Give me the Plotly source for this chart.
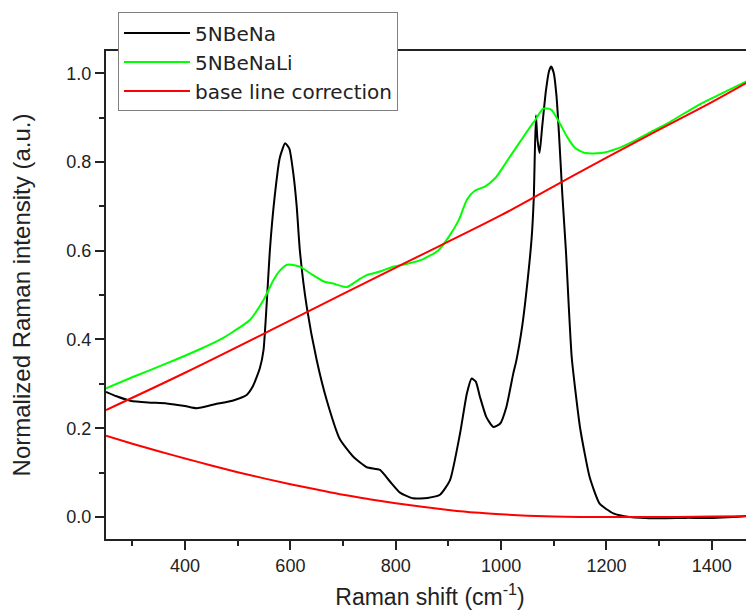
import plotly.graph_objects as go

# 5NBeNa (black)
na_x = [250, 270, 296, 330, 365, 400, 422, 460, 490, 517, 529, 542, 549, 555, 561, 570, 580, 590, 598, 606,
        612, 618, 631, 650, 669, 694, 720, 745, 770, 789, 808, 833, 860, 884, 903, 922, 935, 944, 952, 960,
        972, 985, 998, 1010, 1023, 1029, 1040, 1050, 1058, 1062, 1066, 1069, 1073, 1078, 1085, 1091, 1095,
        1100, 1105, 1110, 1116, 1123, 1134, 1150, 1168, 1187, 1213, 1244, 1300, 1350, 1400, 1440, 1480]
na_y = [0.282, 0.272, 0.262, 0.258, 0.256, 0.250, 0.245, 0.255, 0.262, 0.275, 0.295, 0.335, 0.376, 0.480,
        0.600, 0.720, 0.810, 0.842, 0.830, 0.770, 0.700, 0.600, 0.474, 0.353, 0.263, 0.175, 0.135, 0.112,
        0.106, 0.080, 0.055, 0.042, 0.043, 0.050, 0.083, 0.188, 0.278, 0.312, 0.305, 0.270, 0.225, 0.203,
        0.210, 0.248, 0.323, 0.353, 0.430, 0.530, 0.630, 0.720, 0.905, 0.850, 0.820, 0.880, 0.960, 1.005,
        1.015, 1.000, 0.950, 0.860, 0.730, 0.600, 0.360, 0.200, 0.090, 0.030, 0.008, 0.000, -0.003, -0.002,
        -0.002, 0.000, 0.004]

# 5NBeNaLi (green)
li_x = [250, 302, 365, 428, 470, 492, 523, 549, 568, 580, 593, 605, 618, 643, 665, 681, 707, 730, 745, 770,
        795, 820, 850, 880, 900, 920, 935, 950, 970, 990, 1010, 1030, 1050, 1065, 1080, 1095, 1110, 1125,
        1140, 1160, 1190, 1220, 1250, 1280, 1320, 1377, 1420, 1480]
li_y = [0.290, 0.316, 0.346, 0.378, 0.402, 0.418, 0.444, 0.489, 0.534, 0.555, 0.568, 0.568, 0.564, 0.545,
        0.530, 0.526, 0.518, 0.535, 0.545, 0.553, 0.564, 0.570, 0.580, 0.600, 0.630, 0.670, 0.715, 0.735,
        0.745, 0.765, 0.800, 0.835, 0.870, 0.895, 0.920, 0.918, 0.890, 0.857, 0.832, 0.820, 0.820, 0.830,
        0.846, 0.865, 0.890, 0.930, 0.955, 0.990]

# base line correction (red) - upper, for 5NBeNaLi
base_li_x = [250, 400, 600, 800, 1000, 1100, 1200, 1300, 1400, 1480]
base_li_y = [0.241, 0.325, 0.443, 0.562, 0.680, 0.745, 0.810, 0.873, 0.935, 0.988]

# base line correction (red) - lower, for 5NBeNa
base_na_x = [250, 300, 350, 400, 450, 500, 550, 600, 650, 700, 750, 800, 850, 900, 950, 1000, 1050, 1100,
             1150, 1200, 1300, 1400, 1480]
base_na_y = [0.183, 0.165, 0.148, 0.132, 0.116, 0.101, 0.087, 0.074, 0.062, 0.050, 0.040, 0.031, 0.023,
             0.016, 0.010, 0.006, 0.003, 0.001, 0.000, 0.000, 0.000, 0.001, 0.002]

x_ticks = [400, 600, 800, 1000, 1200, 1400]
y_ticks = [0.0, 0.2, 0.4, 0.6, 0.8, 1.0]

FONT = "Liberation Sans, Arial, sans-serif"

fig = go.Figure()
fig.add_trace(go.Scatter(x=na_x, y=na_y, mode="lines", name="5NBeNa",
                         line=dict(color="#000000", width=2, shape="spline", smoothing=0.5)))
fig.add_trace(go.Scatter(x=li_x, y=li_y, mode="lines", name="5NBeNaLi",
                         line=dict(color="#00ff00", width=2, shape="spline", smoothing=0.6)))
fig.add_trace(go.Scatter(x=base_li_x, y=base_li_y, mode="lines", name="base line correction",
                         legendgroup="base", line=dict(color="#ff0000", width=2, shape="spline")))
fig.add_trace(go.Scatter(x=base_na_x, y=base_na_y, mode="lines", name="base line correction",
                         legendgroup="base", showlegend=False,
                         line=dict(color="#ff0000", width=2, shape="spline")))

# the page body adds an 8px offset, so the figure is sized to fill the remaining window
fig.update_layout(
    width=746, height=606,
    margin=dict(l=98, r=0, t=43, b=75, autoexpand=False),
    paper_bgcolor="white", plot_bgcolor="white",
    font=dict(family=FONT, color="#222222"),
    legend=dict(x=0.0185, y=1.079, xanchor="left", yanchor="top",
                bgcolor="white", bordercolor="#808080", borderwidth=1,
                font=dict(size=20, family="DejaVu Sans, sans-serif", color="#222222"),
                itemwidth=66, tracegroupgap=0),
    xaxis=dict(range=[250, 1480], tickvals=x_ticks, ticktext=[str(v) for v in x_ticks],
               ticks="outside", ticklen=9, tickwidth=2, tickcolor="#222222",
               showline=True, linewidth=2, linecolor="#222222", mirror=True,
               showgrid=False, zeroline=False, tickfont=dict(size=18), automargin=False,
               minor=dict(dtick=100, tick0=0, ticks="outside", ticklen=5, tickwidth=2,
                          tickcolor="#222222", showgrid=False),
               title=dict(text="Raman shift (cm<sup>-1</sup>)", font=dict(size=23), standoff=14)),
    yaxis=dict(range=[-0.0496, 1.050], tickvals=y_ticks, ticktext=["%.1f" % v for v in y_ticks],
               ticks="outside", ticklen=9, tickwidth=2, tickcolor="#222222",
               showline=True, linewidth=2, linecolor="#222222", mirror=False,
               showgrid=False, zeroline=False, tickfont=dict(size=18), automargin=False,
               minor=dict(dtick=0.1, tick0=0, ticks="outside", ticklen=5, tickwidth=2,
                          tickcolor="#222222", showgrid=False),
               title=dict(text="Normalized Raman intensity (a.u.)", font=dict(size=24), standoff=29)),
)

fig.write_html("out.html")
